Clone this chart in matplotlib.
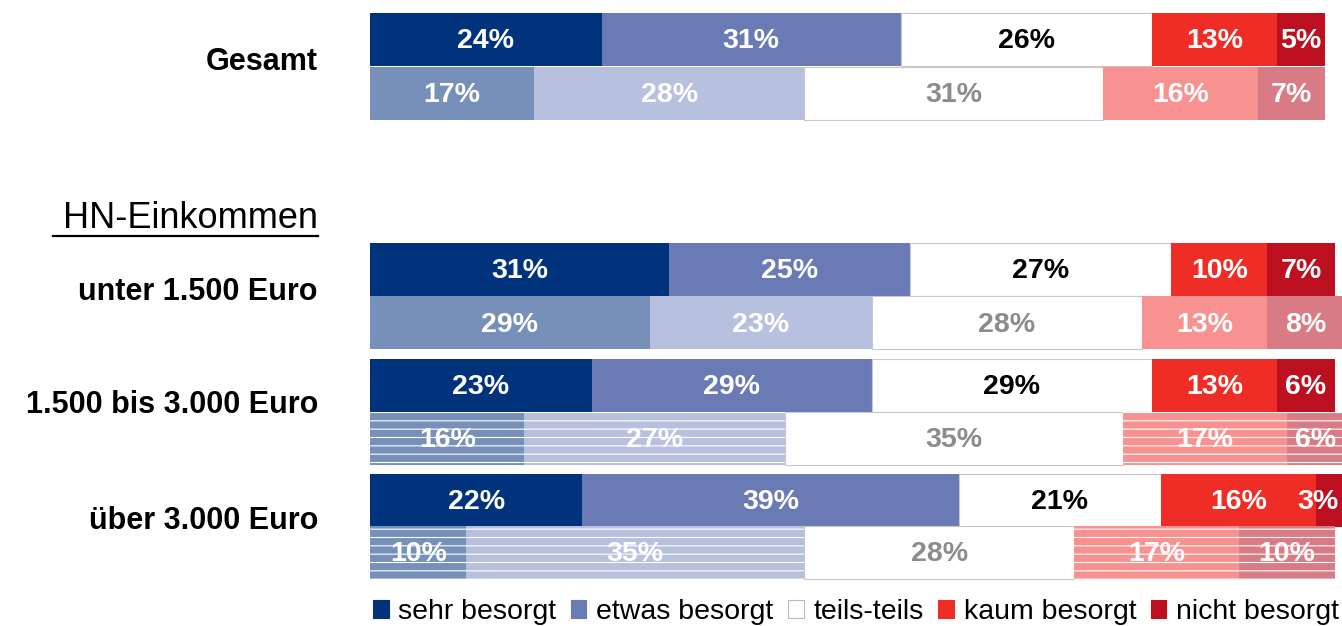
import matplotlib.pyplot as plt
from matplotlib.lines import Line2D
from matplotlib.patches import Patch

plt.rcParams['font.family'] = ['Liberation Sans', 'DejaVu Sans']
plt.rcParams['hatch.color'] = 'white'
plt.rcParams['hatch.linewidth'] = 0.8

categories = ['sehr besorgt', 'etwas besorgt', 'teils-teils', 'kaum besorgt', 'nicht besorgt']
groups = ['Gesamt', 'unter 1.500 Euro', '1.500 bis 3.000 Euro', 'über 3.000 Euro']

# upper bar per group (solid) and lower bar (light / patterned)
top_vals = [
    [24, 31, 26, 13, 5],
    [31, 25, 27, 10, 7],
    [23, 29, 29, 13, 6],
    [22, 39, 21, 16, 3],
]
bottom_vals = [
    [17, 28, 31, 16, 7],
    [29, 23, 28, 13, 8],
    [16, 27, 35, 17, 6],
    [10, 35, 28, 17, 10],
]
striped = [False, False, True, True]

dark = ['#00337C', '#6A7AB5', '#FFFFFF', '#EE2E26', '#BC0F20']
light = ['#7690B9', '#B8C0DF', '#FFFFFF', '#F89290', '#D97B84']
top_text = ['white', 'white', 'black', 'white', 'white']
bot_text = ['white', 'white', '#8C8C8C', 'white', 'white']

# pixel layout (figure is 1342 x 626)
W, H = 1342, 626
top_y = [39.5, 269.5, 385.5, 500]
bot_y = [93, 322.5, 438, 552]
bar_h = 53

fig = plt.figure(figsize=(W / 100, H / 100), dpi=100)
ax = fig.add_axes([370 / W, 0, 965 / W, 1])
ax.set_xlim(0, 100)
ax.set_ylim(H, 0)
ax.axis('off')


def draw_row(vals, y, colors, txt_colors, hatch=None):
    left = 0
    for i, v in enumerate(vals):
        if categories[i] == 'teils-teils':
            ax.barh(y, v, left=left, height=bar_h, color=colors[i],
                    edgecolor='#C8C8C8', linewidth=0.8, clip_on=False)
        else:
            ax.barh(y, v, left=left, height=bar_h, color=colors[i],
                    edgecolor='white', linewidth=0, hatch=hatch, clip_on=False)
        # keep the label of a thin last segment inside the picture
        xc = min(left + v / 2, 98.2)
        ax.text(xc, y + 2, f'{v}%', ha='center', va='center',
                color=txt_colors[i], fontsize=20.5, fontweight='bold', clip_on=False)
        left += v


for g in range(len(groups)):
    draw_row(top_vals[g], top_y[g], dark, top_text)
    draw_row(bottom_vals[g], bot_y[g], light, bot_text, hatch='--' if striped[g] else None)

# group labels
label_y = [62, 292, 405, 521]
for g, name in enumerate(groups):
    fig.text(318 / W, 1 - label_y[g] / H, name, ha='right', va='center',
             fontsize=22, fontweight='bold')

fig.text(318 / W, 1 - 218 / H, 'HN-Einkommen', ha='right', va='center', fontsize=26)
fig.add_artist(Line2D([53 / W, 318 / W], [1 - 236 / H, 1 - 236 / H],
                      color='black', linewidth=1.6))

handles = [Patch(facecolor=dark[i], edgecolor='#BBBBBB' if i == 2 else dark[i],
                 linewidth=0.8) for i in range(len(categories))]
fig.legend(handles, categories, loc='center', ncol=5,
           bbox_to_anchor=(856 / W, 1 - 612 / H), frameon=False,
           fontsize=20.5, handlelength=0.55, handleheight=0.55,
           handletextpad=0.35, columnspacing=0.5, borderpad=0)

fig.savefig('out.png', dpi=100)
